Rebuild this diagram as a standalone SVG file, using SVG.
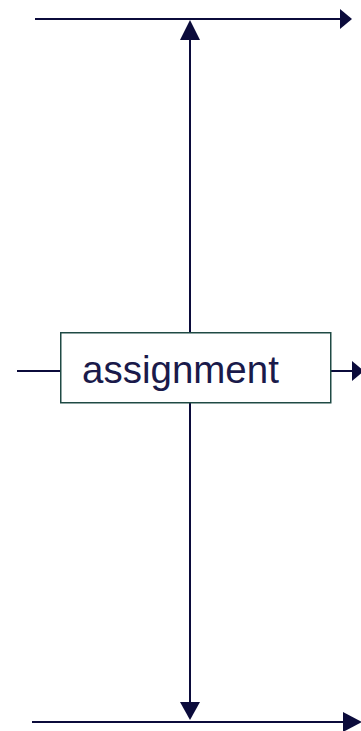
<svg xmlns="http://www.w3.org/2000/svg" width="361" height="731" viewBox="0 0 361 731">
<style>
.ln{stroke:#0b0b3b;stroke-width:2;fill:none}
.ah{fill:#0b0b3b;stroke:none}
.box{fill:#ffffff;stroke:#1f4a44;stroke-width:1.5}
.lbl{font-family:"Liberation Sans",Arial,sans-serif;font-size:38.5px;fill:#1a1a4a}
</style>
<rect width="361" height="731" fill="#ffffff"/>
<g id="connectors">
<line class="ln" x1="35" y1="19" x2="341" y2="19"/>
<polygon class="ah" points="340,9 352,19 340,29"/>
<line class="ln" x1="190" y1="39" x2="190" y2="332"/>
<polygon class="ah" points="180,40 190,20 200,40"/>
<line class="ln" x1="17" y1="371" x2="60" y2="371"/>
<line class="ln" x1="331" y1="371" x2="353" y2="371"/>
<polygon class="ah" points="352,361 364,371 352,381"/>
<line class="ln" x1="190" y1="403" x2="190" y2="703"/>
<polygon class="ah" points="180,702 190,720 200,702"/>
<line class="ln" x1="32" y1="722" x2="344" y2="722"/>
<polygon class="ah" points="343,712 362,722 343,732"/>
</g>
<g id="assignment">
<rect class="box" x="60.75" y="332.75" width="270" height="70"/>
<text class="lbl" x="82" y="383">assignment</text>
</g>
</svg>
